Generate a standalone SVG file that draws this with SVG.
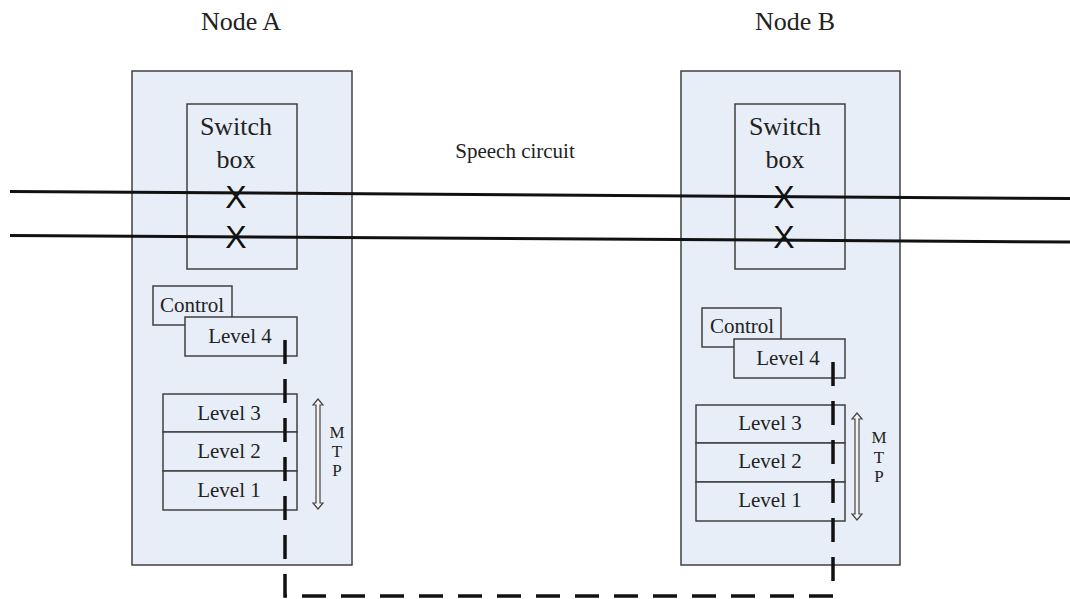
<svg xmlns="http://www.w3.org/2000/svg" width="1070" height="599" viewBox="0 0 1070 599">
  <style>
    .node { fill: #e8eef7; stroke: #404040; stroke-width: 1.5; }
    .box { fill: #e8eef7; stroke: #404040; stroke-width: 1.5; }
    .lbl { font-family: "Liberation Serif", "Times New Roman", serif; fill: #222; text-anchor: middle; }
    .big { font-size: 26px; }
    .mid { font-size: 21px; }
    .sm { font-size: 17px; }
    .x { font-family: "Liberation Sans", Arial, sans-serif; font-size: 32px; fill: #111; text-anchor: middle; }
    .circuit { stroke: #111; stroke-width: 3; fill: none; }
    .mtp { fill: #f2f2f2; stroke: #444; stroke-width: 1.2; }
    .signal { stroke: #111; stroke-width: 3.5; fill: none; stroke-dasharray: 24 15; }
  </style>

  <!-- titles -->
  <text class="lbl big" x="241" y="30">Node A</text>
  <text class="lbl big" x="795" y="30">Node B</text>
  <text class="lbl mid" x="515" y="158">Speech circuit</text>

  <!-- Node A -->
  <g id="nodeA">
    <rect class="node" x="132" y="71" width="220" height="494"/>
    <g id="switchA">
      <rect class="box" x="187" y="104" width="110" height="165"/>
      <text class="lbl big" x="236" y="135">Switch</text>
      <text class="lbl big" x="236" y="168">box</text>
    </g>
    <g id="controlA">
      <rect class="box" x="153" y="286" width="79" height="39"/>
      <text class="lbl mid" x="192" y="312">Control</text>
    </g>
    <g id="level4A">
      <rect class="box" x="185" y="317" width="112" height="39"/>
      <text class="lbl mid" x="240" y="343">Level 4</text>
    </g>
    <g id="mtpA">
      <rect class="box" x="163" y="394" width="134" height="38"/>
      <rect class="box" x="163" y="432" width="134" height="39"/>
      <rect class="box" x="163" y="471" width="134" height="39"/>
      <text class="lbl mid" x="229" y="420">Level 3</text>
      <text class="lbl mid" x="229" y="458">Level 2</text>
      <text class="lbl mid" x="229" y="497">Level 1</text>
      <path class="mtp" d="M318,399 L323,405 L320,405 L320,503 L323,503 L318,509 L313,503 L316,503 L316,405 L313,405 Z"/>
      <text class="lbl sm" x="337" y="438">M</text>
      <text class="lbl sm" x="337" y="457">T</text>
      <text class="lbl sm" x="337" y="476">P</text>
    </g>
  </g>

  <!-- Node B -->
  <g id="nodeB">
    <rect class="node" x="681" y="71" width="219" height="494"/>
    <g id="switchB">
      <rect class="box" x="735" y="104" width="110" height="165"/>
      <text class="lbl big" x="785" y="135">Switch</text>
      <text class="lbl big" x="785" y="168">box</text>
    </g>
    <g id="controlB">
      <rect class="box" x="702" y="308" width="79" height="39"/>
      <text class="lbl mid" x="742" y="333">Control</text>
    </g>
    <g id="level4B">
      <rect class="box" x="734" y="339" width="111" height="39"/>
      <text class="lbl mid" x="788" y="365">Level 4</text>
    </g>
    <g id="mtpB">
      <rect class="box" x="696" y="405" width="149" height="38"/>
      <rect class="box" x="696" y="443" width="149" height="39"/>
      <rect class="box" x="696" y="482" width="149" height="39"/>
      <text class="lbl mid" x="770" y="430">Level 3</text>
      <text class="lbl mid" x="770" y="468">Level 2</text>
      <text class="lbl mid" x="770" y="507">Level 1</text>
      <path class="mtp" d="M857,413 L862,419 L859,419 L859,514 L862,514 L857,520 L852,514 L855,514 L855,419 L852,419 Z"/>
      <text class="lbl sm" x="879" y="443">M</text>
      <text class="lbl sm" x="879" y="463">T</text>
      <text class="lbl sm" x="879" y="482">P</text>
    </g>
  </g>

  <!-- connectors: speech circuits, switch points, signalling link -->
  <g id="connectors">
    <line class="circuit" x1="10" y1="191.5" x2="1070" y2="198.5"/>
    <line class="circuit" x1="10" y1="235.5" x2="1070" y2="242"/>
    <text class="x" x="236" y="208">X</text>
    <text class="x" x="236" y="248">X</text>
    <text class="x" x="784" y="208">X</text>
    <text class="x" x="784" y="248">X</text>
    <path class="signal" d="M285,340 V596 H833 V348"/>
  </g>
</svg>
